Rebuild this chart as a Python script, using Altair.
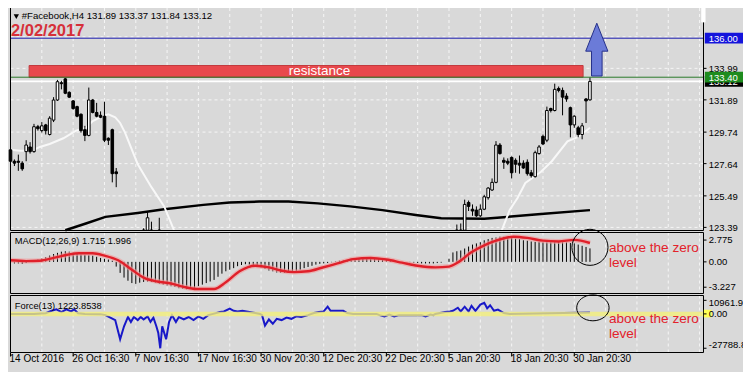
import altair as alt
import pandas as pd

# ---------------- geometry helpers (reference px -> chart px) ----------------
SX, SY = 735 / 751, 364 / 380
def X(v): return round(v * SX, 2)
def Y(v): return round(v * SY, 2)

FONT = "Liberation Sans"
BG = "#d9d9d9"
GRID = "#f6f6f6"

# ---------------- data ----------------
date_ticks = [0, 16, 32, 48, 64, 80, 96, 112, 128, 144]
date_labels = ["14 Oct 2016", "26 Oct 16:30", "7 Nov 16:30", "17 Nov 16:30",
               "30 Nov 20:30", "12 Dec 20:30", "22 Dec 20:30", "5 Jan 20:30",
               "18 Jan 20:30", "30 Jan 20:30"]
grid_bars = [8, 16, 24, 32, 40, 48, 56, 64, 72, 80, 88, 96, 104, 112, 120, 128,
             136, 144, 152, 160, 168, 176]
price_ticks = [133.99, 131.89, 129.74, 127.64, 125.49, 123.39]
price_tick_labels = ["133.99", "131.89", "129.74", "127.64", "125.49", "123.39"]
price_grid = [136.09, 133.99, 131.89, 129.74, 127.64, 125.49, 123.39]
macd_ticks = [2.775, 0.0, -3.227]
macd_tick_labels = ["2.775", "0.00", "-3.227"]
force_ticks = [10961.96, 0.0, -27788.8]
force_tick_labels = ["10961.96", "0.00", "-27788.8"]

# candles (H4 bars, index 0 = 14 Oct 2016); bars 28..113 lie below the visible price range
c_bar = list(range(0, 28)) + [34, 35, 36, 38] + list(range(114, 149))
c_open = [128.56, 127.80, 127.80, 127.67, 128.44, 128.75, 128.44, 130.10, 129.84, 130.22,
          129.58, 130.54, 131.88, 133.03, 133.29, 132.39, 131.82, 131.44, 130.93, 129.90,
          129.52, 131.88, 131.05, 130.86, 130.80, 129.33, 129.90, 127.09,
          123.20, 123.20, 123.20, 123.20,
          123.20, 123.20, 123.20, 125.05, 124.60, 124.54, 124.16, 124.60, 125.37, 125.88,
          126.39, 128.88, 127.86, 127.80, 128.05, 127.86, 127.67, 127.67, 127.73, 127.03,
          126.77, 128.31, 129.46, 129.20, 131.31, 131.18, 132.65, 132.52, 132.14, 131.37,
          130.22, 130.03, 129.58, 131.95, 131.89]
c_high = [128.75, 127.92, 128.24, 127.80, 129.20, 129.07, 130.29, 130.22, 130.41, 130.29,
          130.80, 132.07, 133.22, 133.16, 133.35, 132.46, 131.88, 131.50, 130.99, 130.16,
          132.71, 131.95, 131.69, 131.12, 131.76, 129.39, 129.97, 127.35,
          123.33, 124.41, 123.77, 124.03,
          123.58, 123.65, 125.24, 125.18, 124.92, 124.79, 124.92, 125.56, 126.07, 126.65,
          129.14, 129.01, 128.05, 127.99, 128.12, 127.99, 128.18, 127.86, 127.92, 127.22,
          128.50, 128.88, 129.58, 131.44, 131.37, 132.97, 132.78, 132.71, 132.33, 131.44,
          130.86, 130.16, 130.35, 132.01, 133.37]
c_low = [127.35, 127.48, 127.16, 127.16, 127.80, 128.31, 128.37, 129.84, 129.71, 129.58,
         129.52, 130.41, 131.82, 132.59, 132.27, 132.01, 131.24, 130.73, 129.71, 129.14,
         129.46, 130.99, 130.73, 130.67, 129.07, 128.88, 126.39, 126.07,
         123.20, 123.20, 123.20, 123.20,
         123.20, 123.20, 123.20, 124.48, 124.16, 124.09, 124.09, 124.54, 125.24, 125.82,
         126.33, 128.24, 127.29, 127.54, 126.65, 127.03, 126.97, 127.29, 126.84, 126.71,
         126.71, 128.24, 128.88, 129.07, 131.05, 131.12, 132.39, 130.86, 131.76, 129.39,
         130.03, 129.39, 129.26, 130.35, 131.84]
c_close = [127.80, 127.67, 127.73, 127.29, 128.88, 128.44, 130.10, 129.97, 130.16, 129.84,
           130.67, 131.88, 133.10, 132.97, 132.33, 132.07, 131.31, 130.80, 129.84, 129.52,
           131.88, 131.05, 130.80, 130.73, 129.20, 129.20, 126.97, 126.97,
           123.20, 124.03, 123.20, 123.20,
           123.20, 123.20, 124.92, 124.79, 124.48, 124.16, 124.60, 125.43, 126.01, 126.39,
           128.88, 128.31, 127.73, 127.67, 127.03, 127.60, 127.54, 127.35, 126.97, 126.84,
           128.37, 128.75, 128.95, 131.18, 131.18, 132.59, 132.52, 132.07, 131.95, 130.22,
           130.80, 129.58, 130.16, 131.82, 133.12]

# white (fast) moving average, two visible segments
ma_w_bar = [0, 2.5, 5.5, 7.5, 10, 13.5, 16.75, 19.25, 21, 23.5, 25, 26.75, 28, 29.25,
            32.5, 36, 39.25, 41.75,
            125.5, 127.5, 129.5, 131.5, 135.5, 138.25, 142.25, 145, 148]
ma_w_val = [128.56, 128.50, 128.50, 128.75, 128.95, 129.33, 129.84, 130.03, 130.48, 130.80,
            130.93, 130.73, 130.35, 129.71, 127.60, 126.07, 124.79, 123.20,
            123.20, 124.55, 125.35, 126.35, 127.10, 127.80, 129.12, 129.42, 130.03]
ma_w_seg = ["a"] * 18 + ["b"] * 9
# black (slow) moving average
ma_b_bar = [14, 19.25, 24.25, 32.5, 39.25, 49.25, 56, 63.5, 71, 78.5, 86.75, 95, 103.5,
            110, 121, 135.5, 148]
ma_b_val = [123.20, 123.65, 124.09, 124.35, 124.60, 124.89, 125.05, 125.11, 125.11, 124.99,
            124.79, 124.54, 124.22, 124.00, 123.96, 124.28, 124.54]

# MACD(12,26,9) histogram, one value per bar 0..148
macd_hist = [-0.1, -0.2, -0.2, -0.25, -0.15, 0.0, 0.15, 0.3, 0.45, 0.6,
             0.8, 1.0, 1.15, 1.3, 1.35, 1.3, 1.2, 1.05, 0.95, 0.9,
             0.85, 0.8, 0.65, 0.5, 0.4, 0.3, 0.15, -0.6, -1.4, -2.0,
             -2.4, -2.7, -2.8, -2.65, -2.55, -2.5, -2.55, -2.65, -2.8, -2.9,
             -3.0, -3.1, -3.2, -3.35, -3.45, -3.5, -3.4, -3.3, -3.1, -2.9,
             -2.7, -2.5, -2.3, -1.9, -1.5, -1.2, -1.0, -0.8, -0.55, -0.4,
             -0.3, -0.35, -0.4, -0.5, -0.7, -0.9, -1.1, -1.2, -1.35, -1.4,
             -1.4, -1.35, -1.3, -1.15, -1.0, -0.8, -0.65, -0.5, -0.35, -0.25,
             -0.2, -0.15, -0.05, 0.05, 0.15, 0.2, 0.25, 0.35, 0.4, 0.42,
             0.45, 0.45, 0.42, 0.4, 0.35, 0.3, 0.25, 0.15, 0.1, 0.05,
             0.0, 0.0, -0.05, -0.1, -0.15, -0.2, -0.2, -0.2, -0.2, -0.15,
             -0.1, 0.0, 0.4, 1.2, 1.35, 1.45, 1.7, 1.95, 2.2, 2.35,
             2.5, 2.75, 2.9, 3.05, 3.1, 3.2, 3.2, 3.15, 3.05, 2.95,
             2.9, 2.75, 2.7, 2.6, 2.55, 2.55, 2.5, 2.5, 2.5, 2.5,
             2.55, 2.5, 2.5, 2.4, 2.35, 2.2, 2.05, 1.9, 1.715]
sig_bar = [0, 4, 7.5, 11, 14.5, 17.5, 21, 24, 27.5, 31, 34, 37.5, 41, 44, 47.5, 52, 55,
           58.5, 62.5, 66, 69, 72.5, 76, 79.5, 83.5, 87.5, 92, 96, 100, 104, 108.5, 112,
           114.5, 117.5, 121, 124, 128.5, 132, 136, 140, 144, 148]
sig_val = [0.2, 0.1, 0.15, 0.5, 0.9, 1.1, 1.1, 0.8, 0.2, -1.0, -2.0, -2.5, -2.75, -3.15,
           -3.45, -3.45, -2.6, -1.2, -0.5, -0.7, -1.1, -1.3, -1.2, -0.75, -0.2, 0.35, 0.5,
           0.3, -0.1, -0.5, -0.7, -0.6, 0.0, 1.15, 2.1, 2.7, 3.2, 3.05, 2.7, 2.6, 2.8, 2.4]

# Force(13)
f_bar = [0, 6, 9, 10.5, 11.75, 13, 14.25, 15.5, 16.25, 17.25, 19, 23, 24.25, 25.5, 26.75,
         28, 29, 30, 30.75, 31.5, 32.5, 33.25, 34, 35, 35.75, 36.5, 37.25, 37.75, 38.25,
         38.75, 39.75, 40.5, 41.25, 42.25, 43, 44.25, 45.5, 46.75, 48, 49.25, 50.5, 51.75,
         53.5, 54.5, 56, 57, 58, 59.25, 61, 62.5, 63.75, 64.25, 65, 66, 67, 68, 69.25, 70.5,
         71.75, 73, 74.25, 76, 77.5, 78.75, 80, 81, 81.75, 85, 86, 87.5, 93.5, 94.25, 95.5,
         96.75, 98, 99.25, 105, 106, 107.25, 108, 108.5, 111, 112.25, 113, 114.25, 115,
         116, 117, 117.75, 118.75, 120, 121, 121.75, 122.5, 123.5, 124.5, 126, 127.5, 148]
f_val = [0, 0, 500, 2500, 3700, 1500, 3700, 2000, 3700, 500, 0, -200, -1000, -3000, -5000,
         -20500, -10000, -2500, -6500, -2500, -5000, -2500, -4500, -2000, -6500, -3000,
         -10000, -15500, -27800, -10000, -20500, -6500, -1000, -6500, -2500, -4500, -2500,
         -5000, -2000, -4000, -1000, 0, 1500, 2000, 4200, 2500, 2000, 2500, 1500, 700, 0,
         -1000, -9500, -4500, -8000, -4000, -5000, -3000, -4000, -2000, -2500, -1000, 700,
         1500, 2000, 5800, 2500, 2500, 700, 0, 0, -1000, -2000, -500, -2000, -1000, -1000,
         -2000, -500, -1000, 0, 1500, 2000, 2500, 5000, 2000, 5800, 2000, 6500, 2500, 7500,
         9000, 4500, 7000, 2500, 3500, 700, 0, 1224]

assert len(c_bar) == len(c_open) == len(c_high) == len(c_low) == len(c_close)
assert len(macd_hist) == 149 and len(f_bar) == len(f_val) and len(sig_bar) == len(sig_val)

# ---------------- scales ----------------
PL, PR = 2.5, 695.5
M_TOP, M_BOT = 0, 222.5
D_TOP, D_BOT = 224.5, 285.5
F_TOP, F_BOT = 287.5, 344.5

xs = alt.Scale(domain=[0, 177], range=[PL, PR], nice=False, zero=False)
ys_p = alt.Scale(domain=[123.182, 138.013], range=[M_BOT, M_TOP], nice=False, zero=False, clamp=True)
ys_m = alt.Scale(domain=[-4.027, 3.739], range=[D_BOT, D_TOP], nice=False, zero=False)
ys_f = alt.Scale(domain=[-31233, 14880], range=[F_BOT, F_TOP], nice=False, zero=False)

def xq(f): return alt.X(f, type="quantitative", scale=xs, axis=None)
def yq(f, sc): return alt.Y(f, type="quantitative", scale=sc, axis=None)
def one(): return pd.DataFrame({"k": [0]})

def vtext(text, x, y, size, color="black", weight="normal", align="left", baseline="alphabetic"):
    return alt.Chart(one()).mark_text(text=text, font=FONT, fontSize=size, color=color,
                                      fontWeight=weight, align=align, baseline=baseline
                                      ).encode(x=alt.value(X(x)), y=alt.value(Y(y)))

def vrect(x0, x1, y0, y1, **kw):
    return alt.Chart(one()).mark_rect(**kw).encode(
        x=alt.value(X(x0)), x2=alt.value(X(x1)), y=alt.value(Y(y0)), y2=alt.value(Y(y1)))

L = []
gdf = pd.DataFrame({"bar": grid_bars})
# ---- grids ----
for top, bot in [(M_TOP, M_BOT), (D_TOP, D_BOT), (F_TOP, F_BOT)]:
    L.append(alt.Chart(gdf).mark_rule(color=GRID, strokeDash=[3, 3], strokeWidth=1).encode(
        x=xq("bar"), y=alt.value(top), y2=alt.value(bot)))
L.append(alt.Chart(pd.DataFrame({"p": price_grid})).mark_rule(
    color=GRID, strokeDash=[3, 3], strokeWidth=1).encode(
    y=yq("p", ys_p), x=alt.value(PL), x2=alt.value(PR)))

# ---- resistance zone ----
res = pd.DataFrame({"b0": [4.75], "b1": [146.25], "lo": [133.40], "hi": [134.18]})
L.append(alt.Chart(res).mark_rect(fill="#e8484c", stroke="#c23a3e", strokeWidth=1).encode(
    x=xq("b0"), x2="b1", y=yq("lo", ys_p), y2="hi"))
L.append(alt.Chart(pd.DataFrame({"b": [78.9], "p": [133.84]})).mark_text(
    text="resistance", font=FONT, fontSize=13.5, color="white", baseline="middle", align="center"
).encode(x=xq("b"), y=yq("p", ys_p)))

# ---- horizontal level lines ----
L.append(alt.Chart(pd.DataFrame({"p": [136.00]})).mark_rule(color="#1c1cb0", strokeWidth=1).encode(
    y=yq("p", ys_p), x=alt.value(PL), x2=alt.value(PR)))
L.append(alt.Chart(pd.DataFrame({"p": [133.12]})).mark_rule(color="white", strokeWidth=1.6).encode(
    y=yq("p", ys_p), x=alt.value(PL), x2=alt.value(PR)))
L.append(alt.Chart(pd.DataFrame({"p": [133.40]})).mark_rule(color="#2b7a2b", strokeWidth=1).encode(
    y=yq("p", ys_p), x=alt.value(PL), x2=alt.value(PR)))

# ---- moving averages ----
L.append(alt.Chart(pd.DataFrame({"bar": ma_b_bar, "p": ma_b_val})).mark_line(
    color="black", strokeWidth=2.5).encode(x=xq("bar"), y=yq("p", ys_p)))
L.append(alt.Chart(pd.DataFrame({"bar": ma_w_bar, "p": ma_w_val, "seg": ma_w_seg})).mark_line(
    color="#f8f8f8", strokeWidth=2).encode(x=xq("bar"), y=yq("p", ys_p), detail="seg:N"))

# ---- candles ----
cdf = pd.DataFrame({"bar": c_bar, "o": c_open, "h": c_high, "l": c_low, "c": c_close})
L.append(alt.Chart(cdf).mark_rule(color="black", strokeWidth=1).encode(
    x=xq("bar"), y=yq("l", ys_p), y2="h"))
L.append(alt.Chart(cdf).transform_calculate(x0="datum.bar - 0.33", x1="datum.bar + 0.33").mark_rect(
    stroke="black", strokeWidth=1).encode(
    x=xq("x0"), x2="x1", y=yq("o", ys_p), y2="c",
    fill=alt.condition("datum.c >= datum.o", alt.value("white"), alt.value("black"))))

# ---- up arrow ----
ARROW = "M0,-1L0.42,0.06L0.2,0.06L0.2,1L-0.2,1L-0.2,0.06L-0.42,0.06Z"
L.append(alt.Chart(pd.DataFrame({"bar": [149.75], "p": [135.24]})).mark_point(
    shape=ARROW, filled=True, fill="#6b7bd8", stroke="#25308a", strokeWidth=1, opacity=1,
    size=2790).encode(x=xq("bar"), y=yq("p", ys_p)))

# ---- MACD panel ----
hdf = pd.DataFrame({"bar": list(range(149)), "v": macd_hist})
L.append(alt.Chart(hdf).transform_calculate(z="0").mark_rule(color="black", strokeWidth=1).encode(
    x=xq("bar"), y=yq("z", ys_m), y2="v"))
sdf = pd.DataFrame({"bar": sig_bar, "v": sig_val})
L.append(alt.Chart(sdf).mark_line(color="#f19a9a", strokeWidth=5, opacity=0.6, interpolate="monotone").encode(
    x=xq("bar"), y=yq("v", ys_m)))
L.append(alt.Chart(sdf).mark_line(color="#e0202a", strokeWidth=2.4, interpolate="monotone").encode(
    x=xq("bar"), y=yq("v", ys_m)))
L.append(alt.Chart(pd.DataFrame({"bar": [148], "v": [1.85]})).mark_point(
    shape="circle", filled=False, color="black", strokeWidth=1, opacity=1, size=1300).encode(
    x=xq("bar"), y=yq("v", ys_m)))

# ---- Force panel ----
L.append(alt.Chart(pd.DataFrame({"bar": f_bar, "v": f_val})).mark_line(
    color="#1818c8", strokeWidth=2).encode(x=xq("bar"), y=yq("v", ys_f)))
L.append(alt.Chart(pd.DataFrame({"v": [0]})).mark_rule(color="#f3ef7a", strokeWidth=4.5, opacity=0.8).encode(
    y=yq("v", ys_f), x=alt.value(PL), x2=alt.value(PR)))
ELL = "M-1,0A1,0.8,0,1,1,1,0A1,0.8,0,1,1,-1,0Z"
L.append(alt.Chart(pd.DataFrame({"bar": [148.75], "v": [4900]})).mark_point(
    shape=ELL, filled=False, color="black", strokeWidth=1, opacity=1, size=1050).encode(
    x=xq("bar"), y=yq("v", ys_f)))

# ---- panel frames ----
for top, bot in [(M_TOP - 1, M_BOT), (D_TOP, D_BOT), (F_TOP, F_BOT)]:
    L.append(alt.Chart(one()).mark_rect(fillOpacity=0, stroke="black", strokeWidth=1).encode(
        x=alt.value(PL), x2=alt.value(PR), y=alt.value(top), y2=alt.value(bot)))
L.append(vrect(708.3, 712.7, 0, 15, fill="white"))

# ---- right-hand price labels ----
LX = X(716)
pt = pd.DataFrame({"p": price_ticks, "lab": price_tick_labels})
L.append(alt.Chart(pt).mark_rule(color="black").encode(
    y=yq("p", ys_p), x=alt.value(PR), x2=alt.value(PR + 3)))
L.append(alt.Chart(pt).mark_text(font=FONT, fontSize=9.5, align="left", baseline="middle", dy=1).encode(
    y=yq("p", ys_p), x=alt.value(LX), text="lab:N"))

def price_box(p, txt, fill):
    d = pd.DataFrame({"p": [p], "lo": [p - 0.36], "hi": [p + 0.36], "t": [txt]})
    a = alt.Chart(d).mark_rect(fill=fill).encode(
        y=yq("lo", ys_p), y2="hi", x=alt.value(X(712)), x2=alt.value(X(751)))
    b = alt.Chart(d).mark_text(font=FONT, fontSize=9.5, color="white", align="left",
                               baseline="middle", dy=0.5).encode(
        y=yq("p", ys_p), x=alt.value(LX), text="t:N")
    return [a, b]

L += price_box(133.12, "133.12", "#000000")
L += price_box(133.40, "133.40", "#1e8c1e")
L += price_box(136.00, "136.00", "#1414dc")

mt = pd.DataFrame({"v": macd_ticks, "lab": macd_tick_labels})
L.append(alt.Chart(mt).mark_rule(color="black").encode(
    y=yq("v", ys_m), x=alt.value(PR), x2=alt.value(PR + 3)))
L.append(alt.Chart(mt).mark_text(font=FONT, fontSize=9.5, align="left", baseline="middle").encode(
    y=yq("v", ys_m), x=alt.value(LX), text="lab:N"))

L.append(vrect(711, 719, 315, 323, fill="#ffff55"))
for v, lab, dy in zip(force_ticks, force_tick_labels, [3, 0, -3]):
    fd = pd.DataFrame({"v": [v], "lab": [lab]})
    L.append(alt.Chart(fd).mark_rule(color="black").encode(
        y=yq("v", ys_f), x=alt.value(PR), x2=alt.value(PR + 3)))
    L.append(alt.Chart(fd).mark_text(font=FONT, fontSize=9.5, align="left", baseline="middle", dy=dy).encode(
        y=yq("v", ys_f), x=alt.value(LX), text="lab:N"))

# ---- date axis ----
dd = pd.DataFrame({"bar": date_ticks, "lab": date_labels})
L.append(alt.Chart(dd).mark_rule(color="black").encode(
    x=xq("bar"), y=alt.value(F_BOT), y2=alt.value(F_BOT + 4)))
L.append(alt.Chart(dd).mark_text(font=FONT, fontSize=10, align="left", baseline="alphabetic", dx=-1).encode(
    x=xq("bar"), y=alt.value(Y(370)), text="lab:N"))

# ---- titles and annotations ----
L.append(alt.Chart(one()).mark_point(shape="triangle-down", filled=True, color="black", size=28, opacity=1).encode(
    x=alt.value(X(8.5)), y=alt.value(Y(9))))
L.append(vtext("#Facebook,H4  131.89 133.37 131.84 133.12", 14, 12, 9.6))
L.append(vtext("2/02/2017", 3, 29, 16.5, color="#d6303a", weight="bold"))
L.append(vtext("MACD(12,26,9) 1.715 1.996", 7, 246, 9.3))
L.append(vtext("Force(13) 1223.8538", 7, 314, 9.3))
for y1, y2 in [(255, 270.5), (329, 344.5)]:
    L.append(vtext("above the zero", 614, y1, 13.6, color="#e3222b"))
    L.append(vtext("level", 614, y2, 13.6, color="#e3222b"))

chart = alt.layer(*L).resolve_scale(y="independent").properties(
    width=735, height=364, autosize=alt.AutoSizeParams(type="none"), padding=0,
    background=BG).configure_view(strokeWidth=0)

chart.save("out.html", embed_options={"renderer": "svg", "actions": False})
